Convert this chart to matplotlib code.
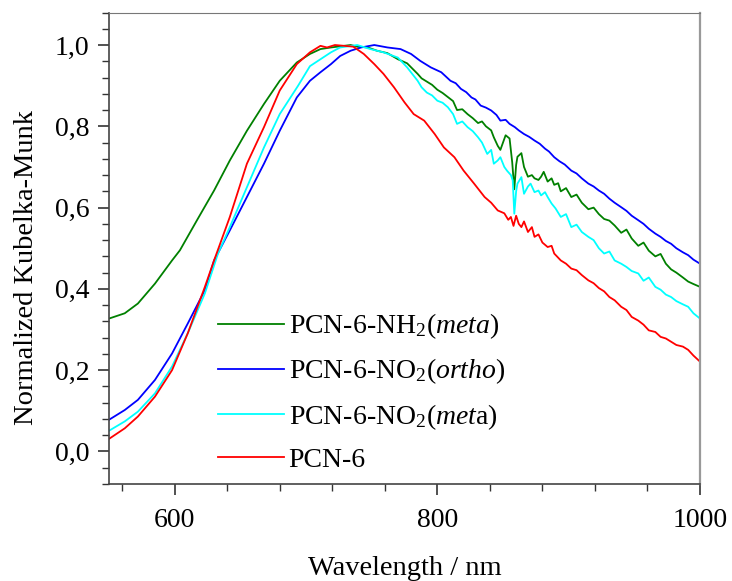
import matplotlib
matplotlib.use("Agg")
import matplotlib.pyplot as plt
from matplotlib.ticker import MultipleLocator, FuncFormatter

# values (wavelength in nm, normalized K-M)
wl_nh2 = [550, 562, 572, 585, 598, 604, 617, 630, 642, 655, 668, 680, 693, 703,
          711, 719, 729, 734, 739, 747, 754, 762, 770, 777, 785, 788, 792, 796,
          800, 804, 808, 812, 815, 819, 823, 827, 831, 834, 837, 841, 843, 846,
          848, 850, 852, 855, 857, 858.6, 860, 861, 864, 866, 869, 872, 874,
          877, 879, 881, 884, 887, 889, 892, 894, 898, 902, 906, 910, 915, 919,
          923, 927, 931, 935, 940, 944, 948, 953, 957, 961, 966, 970, 974, 978,
          982, 987, 991, 995, 1000]
kn_nh2 = [0.327, 0.340, 0.364, 0.413, 0.470, 0.495, 0.569, 0.642, 0.716, 0.789,
          0.855, 0.912, 0.957, 0.978, 0.990, 0.994, 0.998, 1.000, 0.996, 0.994,
          0.986, 0.980, 0.965, 0.955, 0.929, 0.918, 0.910, 0.902, 0.890, 0.882,
          0.872, 0.862, 0.840, 0.842, 0.830, 0.820, 0.808, 0.812, 0.800, 0.790,
          0.773, 0.752, 0.742, 0.760, 0.778, 0.770, 0.712, 0.645, 0.705, 0.725,
          0.734, 0.700, 0.676, 0.680, 0.672, 0.668, 0.676, 0.688, 0.664, 0.672,
          0.656, 0.660, 0.640, 0.648, 0.626, 0.632, 0.612, 0.596, 0.600, 0.584,
          0.572, 0.568, 0.556, 0.538, 0.546, 0.524, 0.506, 0.514, 0.494, 0.480,
          0.486, 0.462, 0.448, 0.440, 0.428, 0.418, 0.412, 0.405]

wl_ortho = [550, 562, 572, 585, 598, 610, 623, 630, 642, 655, 668, 680, 693, 703,
            711, 719, 726, 734, 742, 752, 762, 772, 780, 787, 795, 803, 810,
            814, 818, 822, 826, 829, 833, 837, 841, 845, 848, 852, 855, 859, 862,
            866, 870, 874, 878, 882, 885, 889, 893, 897, 902, 906, 910, 915, 919,
            923, 927, 931, 935, 940, 944, 948, 953, 957, 961, 966, 970, 974, 978,
            982, 987, 991, 995, 1000]
kn_ortho = [0.078, 0.102, 0.127, 0.176, 0.241, 0.315, 0.397, 0.470, 0.544, 0.626,
            0.708, 0.789, 0.871, 0.912, 0.933, 0.953, 0.973, 0.986, 0.994, 1.000,
            0.994, 0.990, 0.978, 0.961, 0.945, 0.933, 0.912, 0.906, 0.892, 0.884,
            0.871, 0.866, 0.851, 0.846, 0.839, 0.828, 0.814, 0.816, 0.806, 0.798,
            0.790, 0.781, 0.774, 0.765, 0.757, 0.745, 0.738, 0.724, 0.714, 0.706,
            0.691, 0.684, 0.672, 0.659, 0.652, 0.642, 0.634, 0.622, 0.612, 0.601,
            0.592, 0.580, 0.569, 0.560, 0.548, 0.536, 0.528, 0.518, 0.511, 0.500,
            0.490, 0.483, 0.472, 0.462]

wl_meta = [550, 562, 572, 585, 598, 610, 623, 633, 642, 655, 668, 680, 694, 703,
           711, 719, 726, 739, 749, 759, 770, 777, 785, 788, 792, 796, 800, 804,
           808, 812, 815, 819, 823, 827, 831, 834, 838, 841, 843, 846, 848, 851,
           853, 856, 857.4, 858.6, 860, 861, 864, 866, 869, 871, 874, 877, 879,
           882, 884, 887, 890, 894, 898, 902, 906, 910, 915, 919, 923, 927, 931,
           935, 940, 944, 948, 953, 957, 961, 966, 970, 974, 978, 982, 987, 991,
           995, 1000]
kn_meta = [0.051, 0.074, 0.098, 0.143, 0.209, 0.291, 0.389, 0.487, 0.552, 0.650,
           0.748, 0.830, 0.900, 0.948, 0.965, 0.982, 0.994, 1.000, 0.990, 0.982,
           0.969, 0.945, 0.912, 0.896, 0.883, 0.876, 0.863, 0.858, 0.847, 0.830,
           0.806, 0.812, 0.798, 0.788, 0.773, 0.760, 0.732, 0.742, 0.708, 0.716,
           0.724, 0.700, 0.691, 0.680, 0.667, 0.585, 0.640, 0.659, 0.675, 0.634,
           0.652, 0.659, 0.638, 0.642, 0.630, 0.638, 0.626, 0.610, 0.598, 0.577,
           0.584, 0.552, 0.558, 0.540, 0.528, 0.520, 0.500, 0.487, 0.492, 0.470,
           0.462, 0.454, 0.444, 0.438, 0.420, 0.428, 0.405, 0.398, 0.386, 0.380,
           0.370, 0.362, 0.356, 0.340, 0.327]

wl_pcn = [550, 562, 572, 585, 598, 610, 623, 630, 642, 655, 668, 680, 693, 703,
          711, 716, 722, 729, 736, 744, 752, 759, 767, 775, 782, 790, 798, 805,
          813, 820, 828, 836, 841, 846, 851, 854, 856, 858, 860, 862, 864, 866,
          869, 872, 874, 877, 880, 884, 887, 889, 894, 898, 902, 906, 910, 915,
          919, 923, 927, 931, 935, 940, 944, 948, 953, 957, 961, 966, 970, 974,
          978, 982, 987, 991, 995, 1000]
kn_pcn = [0.031, 0.057, 0.086, 0.135, 0.200, 0.291, 0.405, 0.470, 0.577, 0.708,
          0.798, 0.888, 0.953, 0.982, 0.998, 0.994, 1.000, 0.998, 0.996, 0.978,
          0.953, 0.929, 0.896, 0.859, 0.830, 0.814, 0.781, 0.748, 0.724, 0.691,
          0.659, 0.626, 0.612, 0.593, 0.586, 0.570, 0.577, 0.555, 0.580, 0.560,
          0.552, 0.566, 0.540, 0.552, 0.528, 0.534, 0.514, 0.503, 0.506, 0.487,
          0.470, 0.462, 0.450, 0.446, 0.434, 0.421, 0.414, 0.402, 0.394, 0.380,
          0.372, 0.356, 0.348, 0.331, 0.322, 0.312, 0.298, 0.294, 0.282, 0.278,
          0.270, 0.262, 0.258, 0.250, 0.236, 0.221]

labels = [r'PCN-6-NH$_2$($\mathit{meta}$)',
          r'PCN-6-NO$_2$($\mathit{ortho}$)',
          r'PCN-6-NO$_2$($\mathit{met}$a)',
          'PCN-6']
colors = ['#008000', '#0000ff', '#00ffff', '#ff0000']


def main():
    plt.rcParams['font.family'] = ['Liberation Serif', 'DejaVu Serif']
    plt.rcParams['mathtext.fontset'] = 'custom'
    plt.rcParams['mathtext.rm'] = 'Liberation Serif'
    plt.rcParams['mathtext.it'] = 'Liberation Serif:italic'

    fig = plt.figure(figsize=(7.32, 5.81), dpi=100)
    ax = fig.add_axes([109 / 732, 97 / 581, 591 / 732, 471.5 / 581])

    series = [(wl_nh2, kn_nh2), (wl_ortho, kn_ortho), (wl_meta, kn_meta), (wl_pcn, kn_pcn)]
    for (x, y), lab, c in zip(series, labels, colors):
        ax.plot(x, y, color=c, lw=1.3, label=lab)

    ax.set_xlim(550, 1000)
    ax.set_ylim(-0.08, 1.08)
    ax.xaxis.set_major_locator(MultipleLocator(200))
    ax.xaxis.set_minor_locator(MultipleLocator(40))
    ax.yaxis.set_major_locator(MultipleLocator(0.2))
    ax.yaxis.set_minor_locator(MultipleLocator(0.04))
    ax.yaxis.set_major_formatter(FuncFormatter(lambda v, p: f"{v:.1f}".replace('.', ',')))

    ax.tick_params(which='both', direction='out', colors='#333333', labelcolor='black',
                   labelsize=20, top=False, right=False)
    ax.tick_params(which='major', length=8, width=1.2)
    ax.tick_params(which='minor', length=5, width=1.0)
    ax.tick_params(axis='x', pad=9)
    ax.tick_params(axis='y', pad=6)

    for side in ['left', 'bottom']:
        ax.spines[side].set_color('#444444')
        ax.spines[side].set_linewidth(1.2)
    ax.spines['top'].set_color('#777777')
    ax.spines['right'].set_color('#999999')
    ax.spines['right'].set_linewidth(1.6)

    ax.set_xlabel('Wavelength / nm', fontsize=20.5, labelpad=17)
    ax.set_ylabel('Normalized Kubelka-Munk', fontsize=20.5)
    ax.yaxis.set_label_coords(-0.118, 0.46)

    ax.legend(loc='upper left', bbox_to_anchor=(0.184, 0.366), frameon=False,
              fontsize=20, handlelength=2.4, handletextpad=0.15, labelspacing=0.56,
              borderpad=0, borderaxespad=0)

    fig.savefig("out.png", dpi=100)


if __name__ == '__main__':
    main()
